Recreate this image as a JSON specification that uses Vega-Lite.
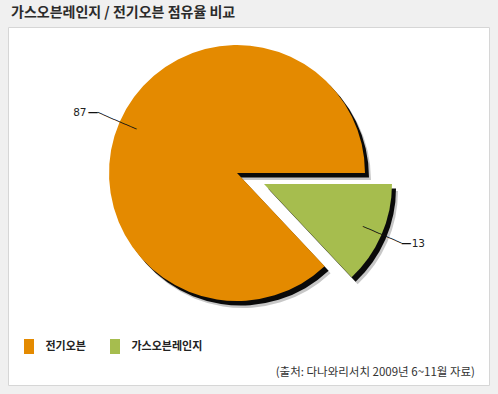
{
  "$schema": "https://vega.github.io/schema/vega-lite/v6.json",
  "width": 481,
  "height": 358,
  "autosize": {"type": "none"},
  "padding": {"left": 8, "top": 27, "right": 9, "bottom": 9},
  "background": "#f0f0f0",
  "title": {
    "text": "가스오븐레인지 / 전기오븐 점유율 비교",
    "anchor": "start",
    "frame": "group",
    "font": "Noto Sans CJK KR",
    "fontSize": 14,
    "fontWeight": "bold",
    "color": "#2b2b2b",
    "baseline": "alphabetic",
    "offset": -4,
    "dx": 3
  },
  "config": {
    "view": {"fill": "white", "stroke": "#d6d6d6"}
  },
  "data": {
    "values": [
      {"cat": "전기오븐", "value": 87},
      {"cat": "가스오븐레인지", "value": 13}
    ]
  },
  "layer": [
    {
      "mark": {"type": "arc", "outerRadius": 128, "fill": "#000", "xOffset": -5.5, "yOffset": -26},
      "encoding": {
        "theta": {"field": "value", "type": "quantitative", "stack": true, "scale": {"range": [2.3876, 8.6708]}},
        "order": {"field": "value", "type": "quantitative", "sort": "descending"},
        "detail": {"field": "cat"},
        "opacity": {"condition": {"test": "datum.cat === '전기오븐'", "value": 0.22}, "value": 0}
      }
    },
    {
      "mark": {"type": "arc", "outerRadius": 128, "fill": "#000", "xOffset": 21.5, "yOffset": -15},
      "encoding": {
        "theta": {"field": "value", "type": "quantitative", "stack": true},
        "order": {"field": "value", "type": "quantitative", "sort": "descending"},
        "detail": {"field": "cat"},
        "opacity": {"condition": {"test": "datum.cat === '가스오븐레인지'", "value": 0.22}, "value": 0}
      }
    },
    {
      "mark": {"type": "arc", "outerRadius": 128, "fill": "#000", "xOffset": -7.5, "yOffset": -28.5},
      "encoding": {
        "theta": {"field": "value", "type": "quantitative", "stack": true},
        "order": {"field": "value", "type": "quantitative", "sort": "descending"},
        "detail": {"field": "cat"},
        "opacity": {"condition": {"test": "datum.cat === '전기오븐'", "value": 0.95}, "value": 0}
      }
    },
    {
      "mark": {"type": "arc", "outerRadius": 128, "fill": "#000", "xOffset": 19.5, "yOffset": -17.5},
      "encoding": {
        "theta": {"field": "value", "type": "quantitative", "stack": true},
        "order": {"field": "value", "type": "quantitative", "sort": "descending"},
        "detail": {"field": "cat"},
        "opacity": {"condition": {"test": "datum.cat === '가스오븐레인지'", "value": 0.95}, "value": 0}
      }
    },
    {
      "mark": {"type": "arc", "outerRadius": 128, "xOffset": -11.5, "yOffset": -33},
      "encoding": {
        "theta": {"field": "value", "type": "quantitative", "stack": true},
        "order": {"field": "value", "type": "quantitative", "sort": "descending"},
        "color": {
          "field": "cat",
          "type": "nominal",
          "scale": {"domain": ["전기오븐", "가스오븐레인지"], "range": ["#E48A00", "#A6BD4E"]},
          "legend": {
            "title": null,
            "orient": "none",
            "legendX": 13.5,
            "legendY": 312,
            "direction": "horizontal",
            "symbolType": "M-0.667,-1H0.667V1H-0.667Z",
            "symbolSize": 225,
            "symbolStrokeWidth": 0,
            "symbolOpacity": 1,
            "labelFont": "Noto Sans CJK KR",
            "labelFontSize": 11,
            "labelFontWeight": "bold",
            "labelColor": "#222222",
            "labelOffset": 9,
            "columnPadding": 21
          }
        },
        "opacity": {"condition": {"test": "datum.cat === '전기오븐'", "value": 1}, "value": 0}
      }
    },
    {
      "mark": {"type": "arc", "outerRadius": 128, "xOffset": 15.5, "yOffset": -22},
      "encoding": {
        "theta": {"field": "value", "type": "quantitative", "stack": true},
        "order": {"field": "value", "type": "quantitative", "sort": "descending"},
        "color": {"field": "cat", "type": "nominal"},
        "opacity": {"condition": {"test": "datum.cat === '가스오븐레인지'", "value": 1}, "value": 0}
      }
    },
    {
      "mark": {"type": "text", "text": "───────", "font": "DejaVu Sans Mono", "fontSize": 10, "angle": 23.4, "radius": 131, "align": "center", "baseline": "middle", "color": "#111", "xOffset": -11.5, "yOffset": -33},
      "encoding": {
        "theta": {"field": "value", "type": "quantitative", "stack": true},
        "order": {"field": "value", "type": "quantitative", "sort": "descending"},
        "detail": {"field": "cat"},
        "opacity": {"condition": {"test": "datum.cat === '전기오븐'", "value": 1}, "value": 0}
      }
    },
    {
      "mark": {"type": "text", "text": "───────", "font": "DejaVu Sans Mono", "fontSize": 10, "angle": 23.4, "radius": 128.5, "align": "center", "baseline": "middle", "color": "#111", "xOffset": 15.5, "yOffset": -22},
      "encoding": {
        "theta": {"field": "value", "type": "quantitative", "stack": true},
        "order": {"field": "value", "type": "quantitative", "sort": "descending"},
        "detail": {"field": "cat"},
        "opacity": {"condition": {"test": "datum.cat === '가스오븐레인지'", "value": 1}, "value": 0}
      }
    },
    {
      "mark": {"type": "text", "text": "─", "font": "DejaVu Sans Mono", "fontSize": 15, "radius": 152, "align": "right", "baseline": "middle", "color": "#111", "xOffset": -11.5, "yOffset": -33},
      "encoding": {
        "theta": {"field": "value", "type": "quantitative", "stack": true},
        "order": {"field": "value", "type": "quantitative", "sort": "descending"},
        "detail": {"field": "cat"},
        "opacity": {"condition": {"test": "datum.cat === '전기오븐'", "value": 1}, "value": 0}
      }
    },
    {
      "mark": {"type": "text", "text": "─", "font": "DejaVu Sans Mono", "fontSize": 15, "radius": 150, "align": "left", "baseline": "middle", "color": "#111", "xOffset": 15.5, "yOffset": -22},
      "encoding": {
        "theta": {"field": "value", "type": "quantitative", "stack": true},
        "order": {"field": "value", "type": "quantitative", "sort": "descending"},
        "detail": {"field": "cat"},
        "opacity": {"condition": {"test": "datum.cat === '가스오븐레인지'", "value": 1}, "value": 0}
      }
    },
    {
      "mark": {"type": "text", "font": "DejaVu Sans", "fontSize": 10.5, "radius": 152, "align": "right", "baseline": "middle", "dx": -11, "color": "#222", "xOffset": -11.5, "yOffset": -33},
      "encoding": {
        "theta": {"field": "value", "type": "quantitative", "stack": true},
        "order": {"field": "value", "type": "quantitative", "sort": "descending"},
        "detail": {"field": "cat"},
        "text": {"field": "value", "type": "quantitative"},
        "opacity": {"condition": {"test": "datum.cat === '전기오븐'", "value": 1}, "value": 0}
      }
    },
    {
      "mark": {"type": "text", "font": "DejaVu Sans", "fontSize": 10.5, "radius": 150, "align": "left", "baseline": "middle", "dx": 10, "color": "#222", "xOffset": 15.5, "yOffset": -22},
      "encoding": {
        "theta": {"field": "value", "type": "quantitative", "stack": true},
        "order": {"field": "value", "type": "quantitative", "sort": "descending"},
        "detail": {"field": "cat"},
        "text": {"field": "value", "type": "quantitative"},
        "opacity": {"condition": {"test": "datum.cat === '가스오븐레인지'", "value": 1}, "value": 0}
      }
    },
    {
      "data": {"values": [{"source": "(출처: 다나와리서치 2009년 6~11월 자료)"}]},
      "mark": {"type": "text", "font": "Noto Sans CJK KR", "fontSize": 11.5, "align": "right", "baseline": "middle", "dx": -14, "dy": -12, "color": "#333"},
      "encoding": {
        "x": {"value": "width"},
        "y": {"value": "height"},
        "text": {"field": "source", "type": "nominal"}
      }
    }
  ]
}
